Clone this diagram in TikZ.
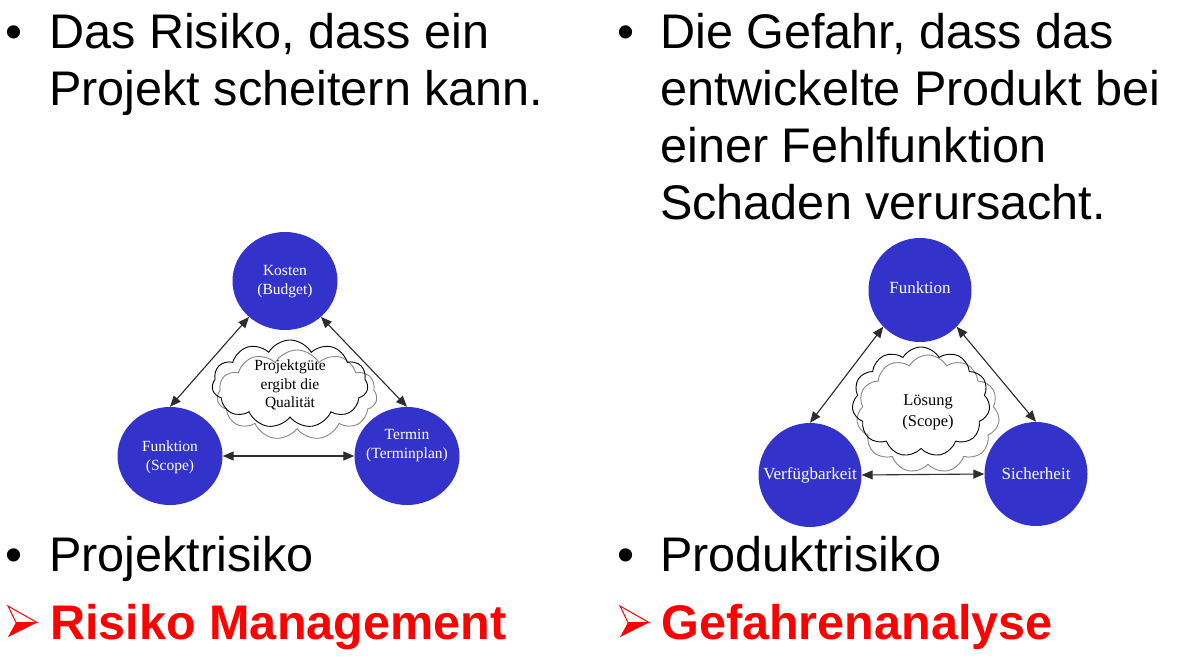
\documentclass[tikz,border=0pt]{standalone}
\usepackage{fontspec}
\setmainfont{Liberation Sans}
\newfontfamily\serifx{Liberation Serif}
\usetikzlibrary{shapes.geometric,shapes.symbols,arrows.meta}
\definecolor{circblue}{RGB}{51,51,204}
\definecolor{arrgray}{RGB}{45,45,45}
\definecolor{cloudgray}{RGB}{135,135,135}
\definecolor{myred}{RGB}{255,0,0}
\begin{document}
\begin{tikzpicture}[x=1pt,y=-1pt,
  bigtext/.style={anchor=base west, inner sep=0pt, font=\fontsize{48.6}{57}\selectfont},
  redtext/.style={anchor=base west, inner sep=0pt, text=myred, font=\fontsize{48.6}{57}\selectfont\bfseries},
  bluecirc/.style={ellipse, fill=circblue, draw=none, inner sep=0pt},
  circtextL/.style={text=white, align=center, inner sep=0pt, font=\serifx\fontsize{15.5}{19}\selectfont},
  circtextR/.style={text=white, align=center, inner sep=0pt, font=\serifx\fontsize{17}{21}\selectfont},
  cloudtext/.style={text=black, align=center, inner sep=0pt, font=\serifx\fontsize{15.5}{18.5}\selectfont},
  cloudbase/.style={cloud, cloud puffs=11, cloud puff arc=120, inner sep=0pt, line width=0.9pt},
  graycloud/.style={cloudbase, draw=cloudgray, fill=white},
  blackcloud/.style={cloudbase, draw=black},
  conn/.style={{Triangle[length=11pt,width=9pt]}-{Triangle[length=11pt,width=9pt]}, line width=1.1pt, draw=arrgray, fill=arrgray},
  redarrow/.pic={
    \fill[myred] (8,16.5) -- (29,16.5) -- (0,31) -- cycle;
    \draw[myred, line width=1pt, line join=miter, fill=white] (0,0) -- (29,16.5) -- (8,16.5) -- cycle;
  }
]
\path[use as bounding box, fill=white] (0,0) rectangle (1180,660);

% ---------- left column text ----------
\node[bigtext] (bl1) at (5,49) {•};
\node[bigtext] (tl1) at (49,49) {Das Risiko, dass ein};
\node[bigtext] (tl2) at (49,106) {Projekt scheitern kann.};

\node[bigtext] (bl2) at (5,571) {•};
\node[bigtext] (tl3) at (49,571) {Projektrisiko};
\pic at (8,606) {redarrow};
\node[redtext] (tl4) at (50,639) {Risiko Management};

% ---------- right column text ----------
\node[bigtext] (br1) at (617,49) {•};
\node[bigtext] (tr1) at (660,49) {Die Gefahr, dass das};
\node[bigtext] (tr2) at (660,106) {entwickelte Produkt bei};
\node[bigtext] (tr3) at (660,163) {einer Fehlfunktion};
\node[bigtext] (tr4) at (660,220) {Schaden verursacht.};

\node[bigtext] (br2) at (617,571) {•};
\node[bigtext] (tr5) at (660,571) {Produktrisiko};
\pic at (620,606) {redarrow};
\node[redtext] (tr6) at (661,639) {Gefahrenanalyse};

% ---------- left diagram ----------
\node[graycloud, aspect=1.8, minimum width=160pt, minimum height=90pt] (cgL) at (297,395) {};
\node[blackcloud, aspect=1.8, minimum width=156pt, minimum height=88pt] (cbL) at (290,384) {};
\node[cloudtext] (ctL) at (290,385) {Projektgüte\\ergibt die\\Qualität};

\node[bluecirc, minimum width=105pt, minimum height=98pt] (kost) at (285,281) {};
\node[bluecirc, minimum width=105pt, minimum height=98pt] (funL) at (170,456) {};
\node[bluecirc, minimum width=105pt, minimum height=98pt] (term) at (407,456) {};
\node[circtextL] at (285,282) {Kosten\\(Budget)};
\node[circtextL] at (170,457) {Funktion\\(Scope)};
\node[circtextL] at (407,446) {Termin\\(Terminplan)};

\draw[conn] (kost.225) -- (funL.north);
\draw[conn] (kost.315) -- (term.north);
\draw[conn] (funL.east) -- (term.west);

% ---------- right diagram ----------
\node[graycloud, aspect=1.25, minimum width=143pt, minimum height=118pt] (cgR) at (928,414) {};
\node[blackcloud, aspect=1.25, minimum width=138pt, minimum height=110pt] (cbR) at (921,402) {};
\node[cloudtext, font=\serifx\fontsize{16.5}{21}\selectfont] (ctR) at (928,412) {Lösung\\(Scope)};

\node[bluecirc, minimum width=103pt, minimum height=104pt] (funR) at (920,290) {};
\node[bluecirc, minimum width=103pt, minimum height=104pt] (verf) at (810,475) {};
\node[bluecirc, minimum width=103pt, minimum height=104pt] (sich) at (1036,474) {};
\node[circtextR] at (920,288) {Funktion};
\node[circtextR] at (810,475) {Verfügbarkeit};
\node[circtextR] at (1036,474) {Sicherheit};

\draw[conn] (funR.225) -- (verf.north);
\draw[conn] (funR.315) -- (sich.north);
\draw[conn] (verf.east) -- (sich.west);
\end{tikzpicture}
\end{document}
